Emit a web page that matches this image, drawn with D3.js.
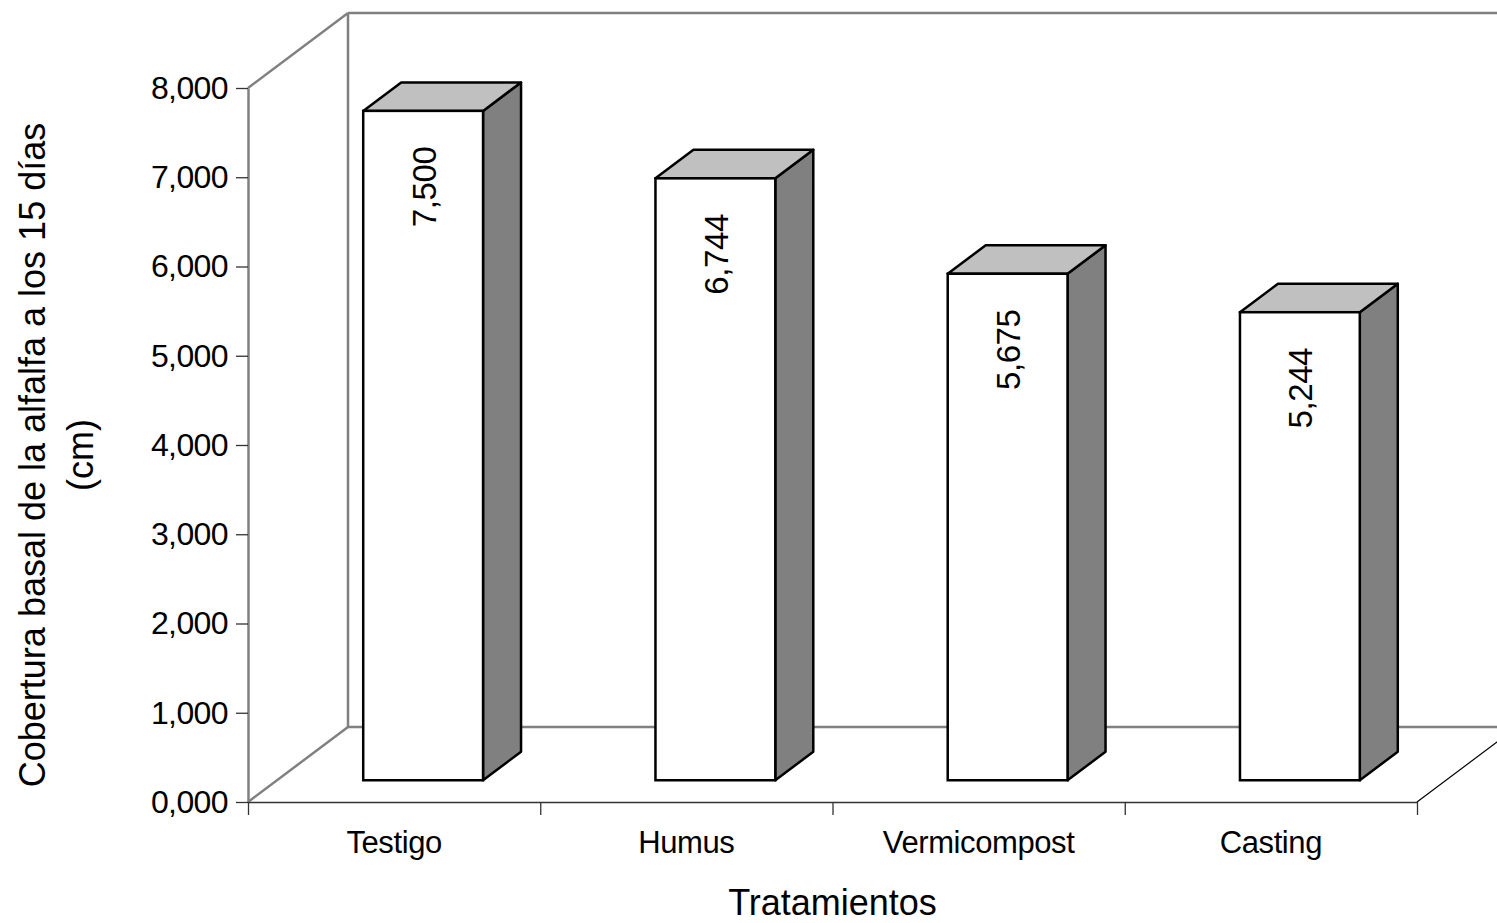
<!DOCTYPE html>
<html>
<head>
<meta charset="utf-8">
<script src="https://cdn.jsdelivr.net/npm/d3@7"></script>
<style>
  html, body { margin: 0; padding: 0; background: #ffffff; }
  svg { display: block; }
  text { font-family: "Liberation Sans", Arial, sans-serif; fill: #000; }
</style>
</head>
<body>
<svg id="chart" width="1497" height="923"></svg>
<script>
// ---- data ----
const categories = ["Testigo", "Humus", "Vermicompost", "Casting"];
const values = [7.5, 6.744, 5.675, 5.244];
const yTicks = [0, 1, 2, 3, 4, 5, 6, 7, 8];
const yTitleLines = ["Cobertura basal de la alfalfa a los 15 días", "(cm)"];
const xTitle = "Tratamientos";

(function () {
// ---- layout ----
const plotLeft = 248, plotRight = 1417, plotBottom = 802, plotTop = 88;
const depthX = 100, depthY = -75;          // full depth of the 3D box
const barDepthStart = 0.29, barDepthLen = 0.38;

const locale = d3.formatLocale({decimal: ",", thousands: ".", grouping: [3], currency: ["", ""]});
const fmt = locale.format(".3f");

const svg = d3.select("#chart");

const y = d3.scaleLinear().domain([0, 8]).range([plotBottom, plotTop]);
const x = d3.scaleBand().domain(categories).range([plotLeft, plotRight])
  .paddingInner(0.59).paddingOuter(0.295);
const xIdx = d3.scaleLinear().domain([0, categories.length]).range([plotLeft, plotRight]);

// ---- walls & floor ----
const wallColor = "#808080";
const g = svg.append("g");
const wallLines = [
  [[plotLeft, y(8)], [plotLeft + depthX, y(8) + depthY]],
  [[plotLeft, y(0)], [plotLeft + depthX, y(0) + depthY]],
  [[plotLeft + depthX, y(8) + depthY], [plotLeft + depthX, y(0) + depthY]],
  [[plotLeft + depthX, y(8) + depthY], [plotRight + depthX + 100, y(8) + depthY]],
  [[plotLeft + depthX, y(0) + depthY], [plotRight + depthX + 100, y(0) + depthY]]
];
g.selectAll("line.wall").data(wallLines).join("line")
  .attr("class", "wall")
  .attr("x1", d => d[0][0]).attr("y1", d => d[0][1])
  .attr("x2", d => d[1][0]).attr("y2", d => d[1][1])
  .attr("stroke", wallColor).attr("stroke-width", 2.5);

// right floor edge
g.append("line")
  .attr("x1", plotRight).attr("y1", y(0))
  .attr("x2", plotRight + depthX).attr("y2", y(0) + depthY)
  .attr("stroke", "#000").attr("stroke-width", 1.2);

// ---- axes ----
const yAxis = svg.append("g").attr("transform", `translate(${plotLeft},0)`)
  .call(d3.axisLeft(y).tickValues(yTicks).tickSize(12).tickSizeOuter(0).tickPadding(8).tickFormat(fmt));
yAxis.select(".domain").attr("stroke", wallColor).attr("stroke-width", 2.5);
yAxis.selectAll(".tick line").attr("stroke", "#333").attr("stroke-width", 1.3);
yAxis.selectAll(".tick text").attr("font-size", 32).attr("letter-spacing", -0.6)
  .attr("font-family", "Liberation Sans, Arial, sans-serif").attr("fill", "#000");

const xTickAxis = svg.append("g").attr("transform", `translate(0,${plotBottom})`)
  .call(d3.axisBottom(xIdx).ticks(categories.length).tickSize(13).tickSizeOuter(0).tickFormat(""));
xTickAxis.select(".domain").attr("stroke", "#333").attr("stroke-width", 1.3);
xTickAxis.selectAll(".tick line").attr("stroke", "#333").attr("stroke-width", 1.3);

const xLabelAxis = svg.append("g").attr("transform", `translate(0,${plotBottom})`)
  .call(d3.axisBottom(x).tickSize(0).tickPadding(29));
xLabelAxis.select(".domain").remove();
xLabelAxis.selectAll(".tick text").attr("font-size", 31).attr("letter-spacing", -0.4)
  .attr("font-family", "Liberation Sans, Arial, sans-serif").attr("fill", "#000");

// ---- bars ----
const bx = barDepthStart * depthX, by = barDepthStart * depthY;
const dx = barDepthLen * depthX, dy = barDepthLen * depthY;
const bars = svg.append("g").selectAll("g.bar")
  .data(categories.map((c, i) => ({c, v: values[i]})))
  .join("g").attr("class", "bar");

bars.each(function(d) {
  const sel = d3.select(this);
  const x0 = x(d.c) + bx, x1 = x0 + x.bandwidth();
  const yb = y(0) + by, yt = y(d.v) + by;
  sel.append("path")
    .attr("d", `M${x1},${yb} L${x1 + dx},${yb + dy} L${x1 + dx},${yt + dy} L${x1},${yt} Z`)
    .attr("fill", "#808080").attr("stroke", "#000").attr("stroke-width", 2.5).attr("stroke-linejoin", "round");
  sel.append("path")
    .attr("d", `M${x0},${yt} L${x1},${yt} L${x1 + dx},${yt + dy} L${x0 + dx},${yt + dy} Z`)
    .attr("fill", "#c0c0c0").attr("stroke", "#000").attr("stroke-width", 2.5).attr("stroke-linejoin", "round");
  sel.append("rect")
    .attr("x", x0).attr("y", yt).attr("width", x1 - x0).attr("height", yb - yt)
    .attr("fill", "#ffffff").attr("stroke", "#000").attr("stroke-width", 2.5);
  const cx = (x0 + x1) / 2, cy = yt + 76;
  sel.append("text")
    .attr("transform", `translate(${cx + 1},${cy}) rotate(-90)`)
    .attr("text-anchor", "middle").attr("dominant-baseline", "central")
    .attr("font-size", 33).attr("letter-spacing", -0.4)
    .text(fmt(d.v));
});

// ---- titles ----
const yTitle = svg.append("text")
  .attr("transform", `translate(45,455) rotate(-90)`)
  .attr("text-anchor", "middle").attr("font-size", 36);
yTitle.selectAll("tspan").data(yTitleLines).join("tspan")
  .attr("x", 0).attr("dy", (d, i) => i === 0 ? 0 : 48)
  .text(d => d);

svg.append("text")
  .attr("x", (plotLeft + plotRight) / 2).attr("y", 915)
  .attr("text-anchor", "middle").attr("font-size", 36)
  .text(xTitle);
})();
</script>
</body>
</html>
